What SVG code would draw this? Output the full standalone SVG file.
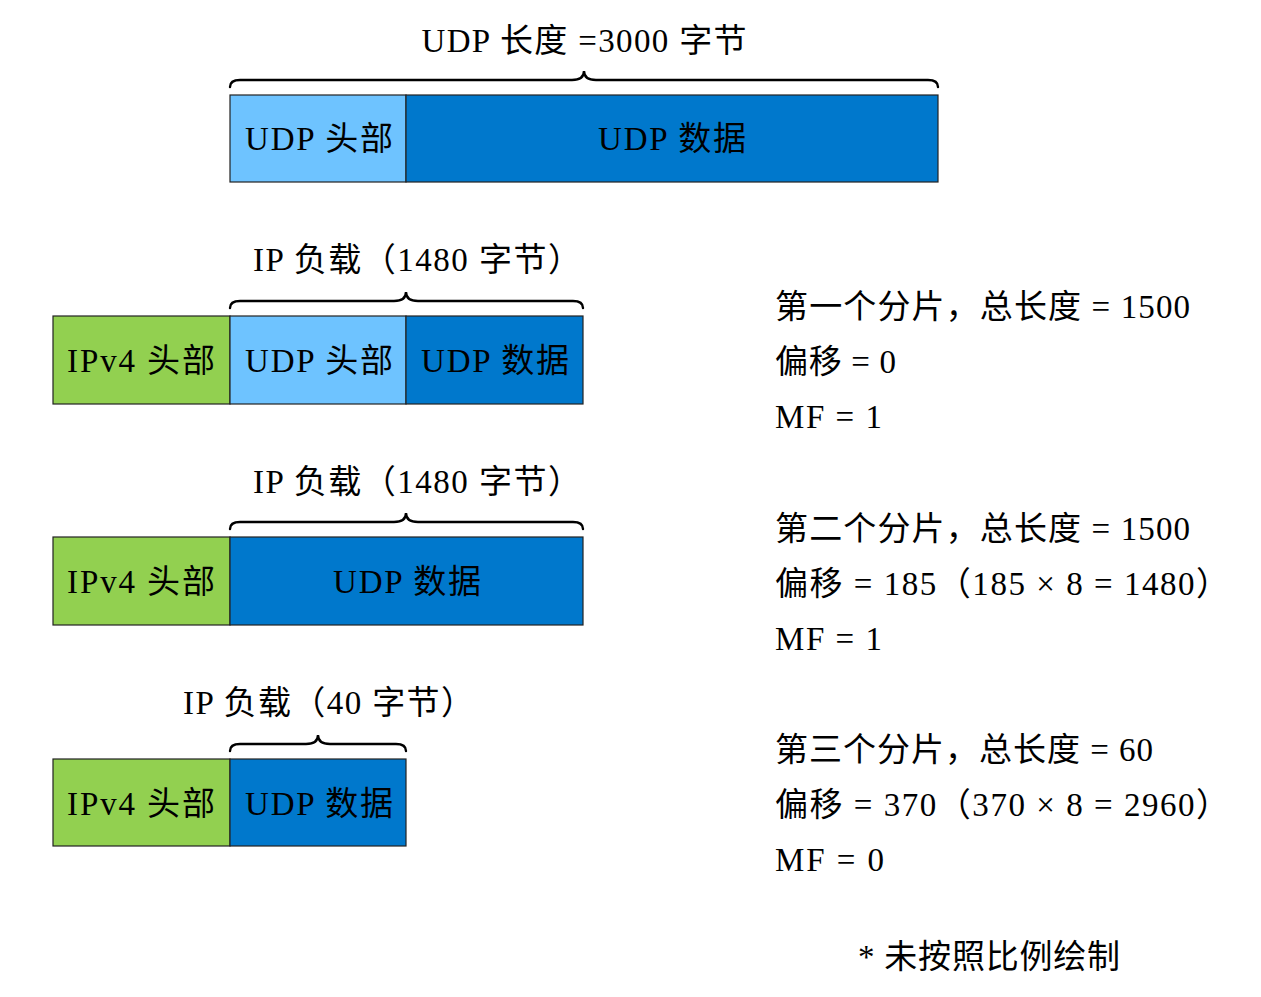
<svg xmlns="http://www.w3.org/2000/svg" width="1261" height="997" viewBox="0 0 1261 997">
<style>
text{font-family:"Liberation Serif","Noto Sans CJK SC",serif;font-size:33px;fill:#000}
.c{text-anchor:middle}
.g{fill:#92D050;stroke:#222;stroke-width:1.2}
.l{fill:#6EC3FF;stroke:#222;stroke-width:1.2}
.d{fill:#0078CC;stroke:#222;stroke-width:1.2}
.br{fill:none;stroke:#000;stroke-width:2.4;stroke-linecap:round}
</style>
<rect width="1261" height="997" fill="#fff"/>
<g id="udp">
<text class="c" x="584" y="52" textLength="325">UDP 长度 =3000 字节</text>
<rect class="l" x="230" y="95" width="176" height="87"/>
<rect class="d" x="406" y="95" width="532" height="87"/>
<text class="c" x="319" y="150" textLength="148">UDP 头部</text>
<text class="c" x="672" y="150" textLength="148">UDP 数据</text>
</g>
<g id="frag1">
<text x="253" y="271" textLength="328">IP 负载（1480 字节）</text>
<rect class="g" x="53" y="316" width="177" height="88"/>
<rect class="l" x="230" y="316" width="176" height="88"/>
<rect class="d" x="406" y="316" width="177" height="88"/>
<text class="c" x="141" y="372" textLength="148">IPv4 头部</text>
<text class="c" x="319" y="372" textLength="148">UDP 头部</text>
<text class="c" x="495" y="372" textLength="148">UDP 数据</text>
<text x="775" y="318" textLength="415">第一个分片，总长度 = 1500</text>
<text x="775" y="373" textLength="121">偏移 = 0</text>
<text x="775" y="428" textLength="107">MF = 1</text>
</g>
<g id="frag2">
<text x="253" y="493" textLength="328">IP 负载（1480 字节）</text>
<rect class="g" x="53" y="537" width="177" height="88"/>
<rect class="d" x="230" y="537" width="353" height="88"/>
<text class="c" x="141" y="593" textLength="148">IPv4 头部</text>
<text class="c" x="407" y="593" textLength="148">UDP 数据</text>
<text x="775" y="540" textLength="415">第二个分片，总长度 = 1500</text>
<text x="775" y="595" textLength="454">偏移 = 185（185 × 8 = 1480）</text>
<text x="775" y="650" textLength="107">MF = 1</text>
</g>
<g id="frag3">
<text x="183" y="714" textLength="291">IP 负载（40 字节）</text>
<rect class="g" x="53" y="759" width="177" height="87"/>
<rect class="d" x="230" y="759" width="176" height="87"/>
<text class="c" x="141" y="815" textLength="148">IPv4 头部</text>
<text class="c" x="319" y="815" textLength="148">UDP 数据</text>
<text x="775" y="761" textLength="378">第三个分片，总长度 = 60</text>
<text x="775" y="816" textLength="454">偏移 = 370（370 × 8 = 2960）</text>
<text x="775" y="871" textLength="109">MF = 0</text>
</g>
<g id="note">
<text x="858" y="968" textLength="262">* 未按照比例绘制</text>
</g>
<g id="connectors">
<path class="br" d="M230,87 Q230,80 240,80 L572,80 C580,80 584,77 584,71 C584,77 588,80 596,80 L928,80 Q938,80 938,87"/>
<path class="br" d="M230,308 Q230,301 240,301 L394,301 C402,301 406,298 406,292 C406,298 410,301 418,301 L573,301 Q583,301 583,308"/>
<path class="br" d="M230,529 Q230,522 240,522 L394,522 C402,522 406,519 406,513 C406,519 410,522 418,522 L573,522 Q583,522 583,529"/>
<path class="br" d="M230,751 Q230,744 240,744 L306,744 C314,744 318,741 318,735 C318,741 322,744 330,744 L396,744 Q406,744 406,751"/>
</g>
</svg>
